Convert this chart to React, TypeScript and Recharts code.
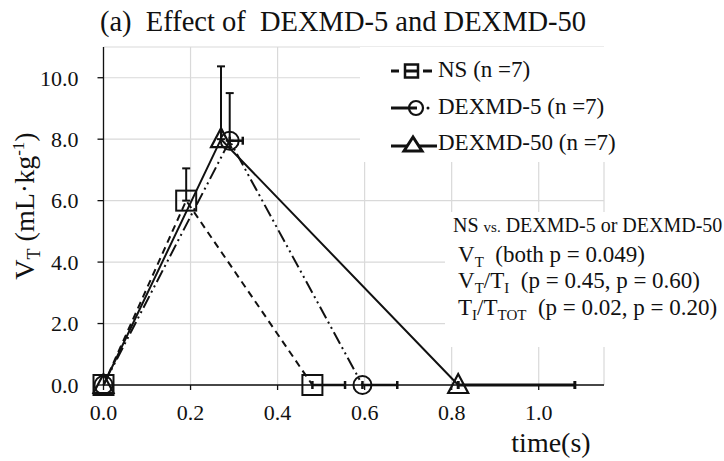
import React from "react";
import { CartesianGrid, ErrorBar, Scatter, ScatterChart, XAxis, YAxis } from "recharts";

// time (s) and tidal volume (mL/kg)
const nsTime = [0, 0.19, 0.48];
const nsVt = [0, 6.0, 0];
const nsVtSd = [null, 1.05, null];
const nsTimeSd = [null, null, 0.075];

const dex5Time = [0, 0.29, 0.595];
const dex5Vt = [0, 7.95, 0];
const dex5VtSd = [null, 1.55, null];
const dex5TimeSd = [null, 0.03, 0.08];

const dex50Time = [0, 0.27, 0.815];
const dex50Vt = [0, 8.0, 0];
const dex50VtSd = [null, 2.37, null];
const dex50TimeSd = [null, null, 0.268];

const xTicks = [0, 0.2, 0.4, 0.6, 0.8, 1.0];
const yTicks = [0, 2, 4, 6, 8, 10];

const seriesNames = ["NS (n =7)", "DEXMD-5 (n =7)", "DEXMD-50 (n =7)"];

const FONT = '"Liberation Serif", "Times New Roman", Tinos, "DejaVu Serif", serif';
const INK = "#111";

type Pt = { t: number; v: number; vErr?: number[]; tErr?: number[] };

function buildPoints(
  time: number[],
  vt: number[],
  vtSd: (number | null)[],
  timeSd: (number | null)[],
): Pt[] {
  return time.map((t, i) => ({
    t,
    v: vt[i],
    vErr: vtSd[i] == null ? undefined : [0, vtSd[i] as number],
    tErr: timeSd[i] == null ? undefined : [0, timeSd[i] as number],
  }));
}

const nsData = buildPoints(nsTime, nsVt, nsVtSd, nsTimeSd);
const dex5Data = buildPoints(dex5Time, dex5Vt, dex5VtSd, dex5TimeSd);
const dex50Data = buildPoints(dex50Time, dex50Vt, dex50VtSd, dex50TimeSd);

const vErrKey = (p: any) => (p.vErr !== undefined ? p.vErr : p.payload?.vErr);
const tErrKey = (p: any) => (p.tErr !== undefined ? p.tErr : p.payload?.tErr);

const SquareMark = (props: any) => (
  <rect
    x={props.cx - 10}
    y={props.cy - 10}
    width={20}
    height={20}
    fill="none"
    stroke={INK}
    strokeWidth={2}
  />
);

const CircleMark = (props: any) => (
  <circle cx={props.cx} cy={props.cy} r={9} fill="none" stroke={INK} strokeWidth={2} />
);

const TriangleMark = (props: any) => (
  <polygon
    points={`${props.cx},${props.cy - 11} ${props.cx - 10},${props.cy + 8} ${props.cx + 10},${props.cy + 8}`}
    fill="none"
    stroke={INK}
    strokeWidth={2.2}
    strokeLinejoin="miter"
  />
);

function LegendBox() {
  return (
    <g>
      <rect x={360} y={47} width={280} height={115} fill="#fff" />
      {/* NS */}
      <line x1={391} y1={71} x2={433} y2={71} stroke={INK} strokeWidth={3} strokeDasharray="8 6 13 5 9" />
      <rect x={405} y={64.5} width={13} height={13} fill="none" stroke={INK} strokeWidth={2.5} />
      {/* DEXMD-5 */}
      <line x1={391} y1={108} x2={417} y2={108} stroke={INK} strokeWidth={3} />
      <circle cx={416} cy={108} r={7} fill="none" stroke={INK} strokeWidth={2.2} />
      <circle cx={428} cy={108} r={1.5} fill={INK} />
      {/* DEXMD-50 */}
      <line x1={391} y1={146} x2={437} y2={146} stroke={INK} strokeWidth={3} />
      <polygon points="413,137 404,151 422,151" fill="#fff" stroke={INK} strokeWidth={3} />
      {seriesNames.map((name, i) => (
        <text key={name} x={438} y={77 + i * 36.7} fontSize={23} fontFamily={FONT} fill={INK} xmlSpace="preserve">
          {name}
        </text>
      ))}
    </g>
  );
}

function StatsBox() {
  const big = 23;
  const sub = 15;
  return (
    <g fontFamily={FONT} fill={INK}>
      <rect x={445} y={212} width={279} height={135} fill="#fff" />
      <text x={453} y={232} fontSize={20} xmlSpace="preserve">
        NS <tspan fontSize={15}>vs.</tspan> DEXMD-5 or DEXMD-50
      </text>
      <text x={458} y={262} fontSize={big} xmlSpace="preserve">
        V<tspan fontSize={sub} dy={5}>T</tspan>
        <tspan dy={-5}>{"  (both p = 0.049)"}</tspan>
      </text>
      <text x={458} y={288} fontSize={big} xmlSpace="preserve">
        V<tspan fontSize={sub} dy={5}>T</tspan>
        <tspan dy={-5}>/T</tspan>
        <tspan fontSize={sub} dy={5}>I</tspan>
        <tspan dy={-5}>{"  (p = 0.45, p = 0.60)"}</tspan>
      </text>
      <text x={458} y={315} fontSize={big} xmlSpace="preserve">
        T<tspan fontSize={sub} dy={5}>I</tspan>
        <tspan dy={-5}>/T</tspan>
        <tspan fontSize={sub} dy={5}>TOT</tspan>
        <tspan dy={-5}>{"  (p = 0.02, p = 0.20)"}</tspan>
      </text>
    </g>
  );
}

export default function App() {
  const tickStyle = { fontFamily: FONT, fontSize: 22, fill: INK };
  return (
    <div style={{ position: "absolute", left: 0, top: 0, width: 724, height: 461, background: "#fff" }}>
      <ScatterChart width={724} height={461} margin={{ top: 47, right: 120, bottom: 0, left: 3.5 }}>
        <CartesianGrid stroke="#d9d9d9" strokeWidth={1.2} />
        <XAxis
          type="number"
          dataKey="t"
          domain={[0, 1.15]}
          ticks={xTicks}
          height={76}
          tick={tickStyle}
          tickFormatter={(value) => Number(value).toFixed(1)}
          tickSize={5}
          tickMargin={14}
          axisLine={{ stroke: INK, strokeWidth: 1.3 }}
          tickLine={{ stroke: INK, strokeWidth: 1.3 }}
        />
        <YAxis
          type="number"
          dataKey="v"
          domain={[0, 11]}
          ticks={yTicks}
          width={100}
          tick={tickStyle}
          tickFormatter={(value) => Number(value).toFixed(1)}
          tickSize={6}
          tickMargin={19}
          axisLine={{ stroke: INK, strokeWidth: 1.3 }}
          tickLine={{ stroke: INK, strokeWidth: 1.3 }}
        />
        <Scatter
          name={seriesNames[0]}
          data={nsData}
          fill={INK}
          line={{ stroke: INK, strokeWidth: 2, strokeDasharray: "7 5" }}
          lineType="joint"
          shape={SquareMark}
          isAnimationActive={false}
        >
          <ErrorBar dataKey={vErrKey} direction="y" width={4} stroke={INK} strokeWidth={2} />
          <ErrorBar dataKey={tErrKey} direction="x" width={4} stroke={INK} strokeWidth={2.5} />
        </Scatter>
        <Scatter
          name={seriesNames[1]}
          data={dex5Data}
          fill={INK}
          line={{ stroke: INK, strokeWidth: 2, strokeDasharray: "13 4 2 4 2 4" }}
          lineType="joint"
          shape={CircleMark}
          isAnimationActive={false}
        >
          <ErrorBar dataKey={vErrKey} direction="y" width={4} stroke={INK} strokeWidth={2} />
          <ErrorBar dataKey={tErrKey} direction="x" width={4} stroke={INK} strokeWidth={2.5} />
        </Scatter>
        <Scatter
          name={seriesNames[2]}
          data={dex50Data}
          fill={INK}
          line={{ stroke: INK, strokeWidth: 2 }}
          lineType="joint"
          shape={TriangleMark}
          isAnimationActive={false}
        >
          <ErrorBar dataKey={vErrKey} direction="y" width={4} stroke={INK} strokeWidth={2} />
          <ErrorBar dataKey={tErrKey} direction="x" width={4} stroke={INK} strokeWidth={3} />
        </Scatter>
      </ScatterChart>
      <svg
        width={724}
        height={461}
        style={{ position: "absolute", left: 0, top: 0, pointerEvents: "none" }}
      >
        <text x={343} y={31} textAnchor="middle" fontSize={28.5} fontFamily={FONT} fill={INK} xmlSpace="preserve">
          (a)  Effect of  DEXMD-5 and DEXMD-50
        </text>
        <text
          x={-206}
          y={34}
          transform="rotate(-90)"
          textAnchor="middle"
          fontSize={28}
          fontFamily={FONT}
          fill={INK}
        >
          V<tspan fontSize={18} dy={6}>T</tspan>
          <tspan dy={-6}> (mL·kg</tspan>
          <tspan fontSize={17} dy={-10}>-1</tspan>
          <tspan dy={10}>)</tspan>
        </text>
        <text x={551} y={452} textAnchor="middle" fontSize={28} fontFamily={FONT} fill={INK}>
          time(s)
        </text>
        <LegendBox />
        <StatsBox />
      </svg>
    </div>
  );
}
